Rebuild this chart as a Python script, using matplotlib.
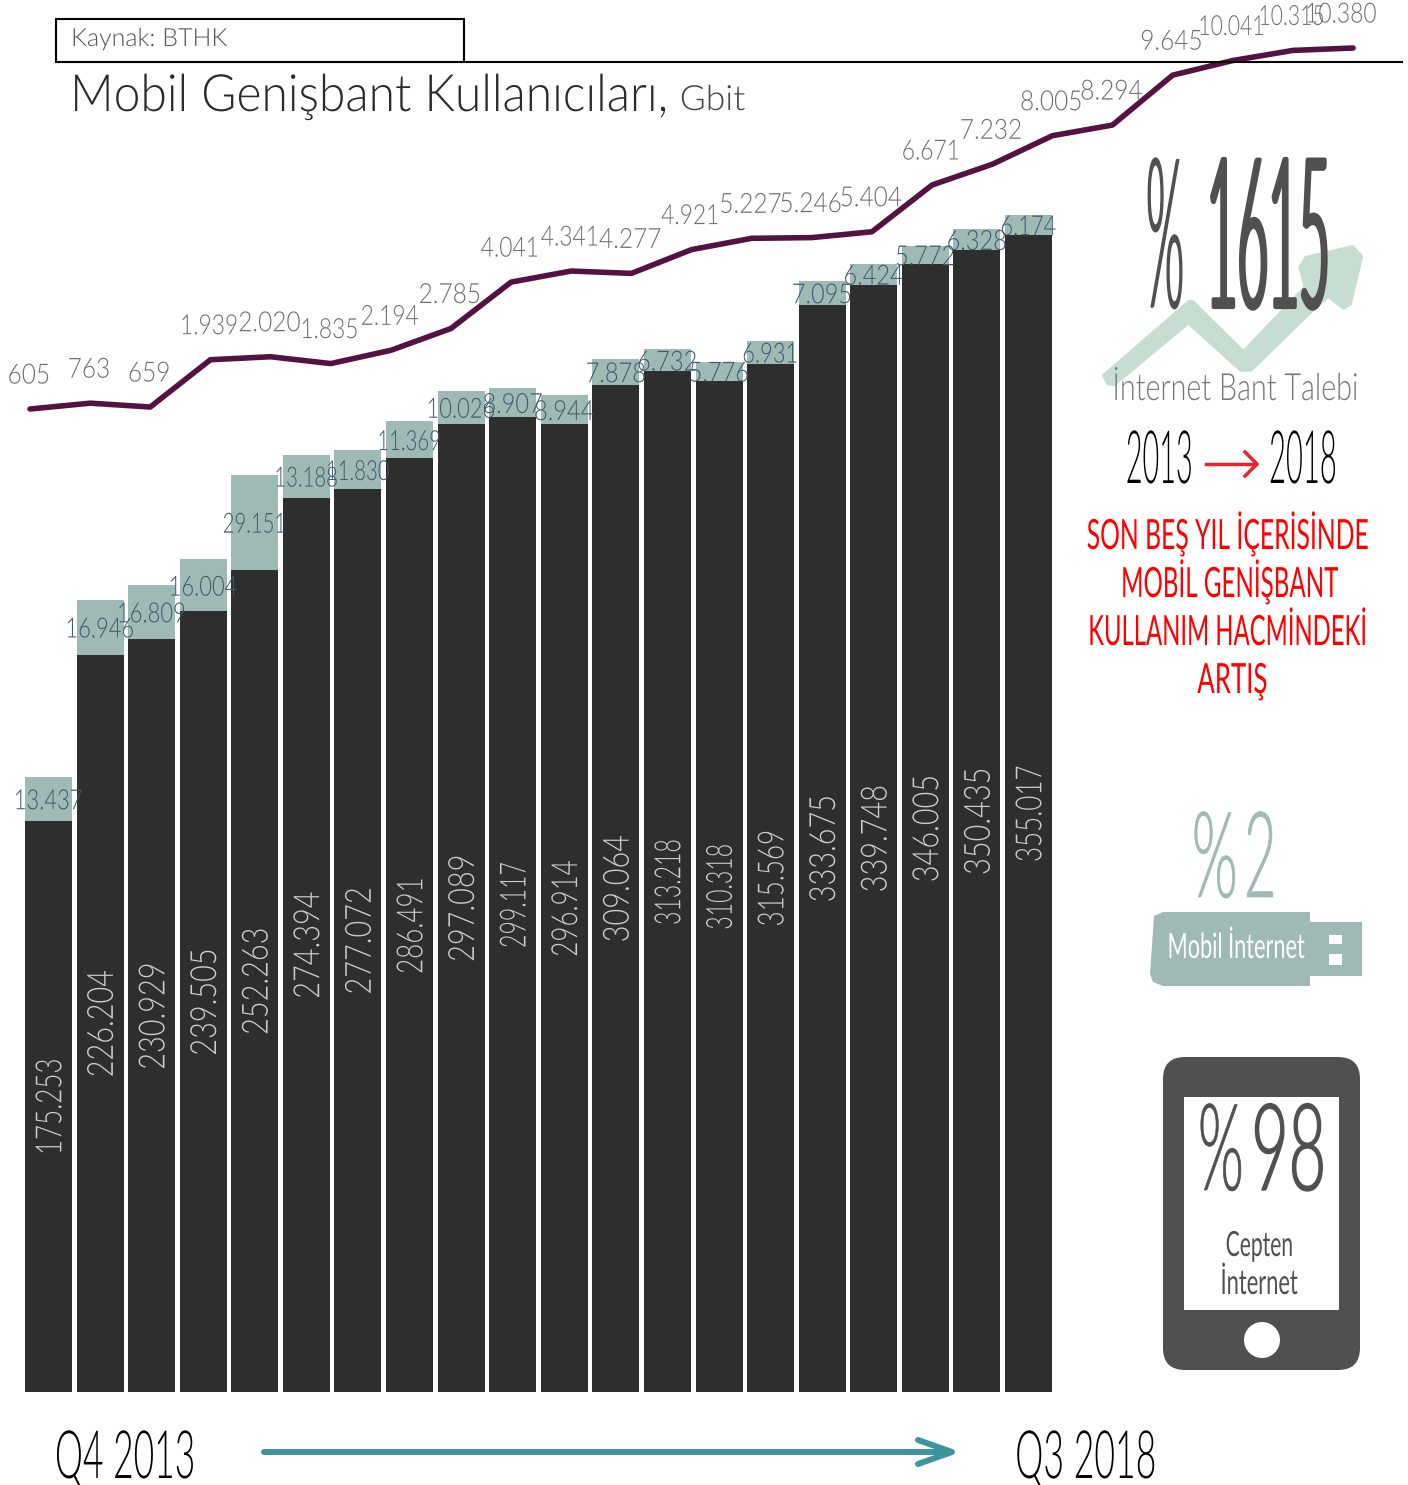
import numpy as np
import matplotlib
matplotlib.use("Agg")
import matplotlib.pyplot as plt
from matplotlib.patches import Polygon, FancyBboxPatch, Circle, Rectangle
from matplotlib.patheffects import AbstractPathEffect
from matplotlib.transforms import Affine2D

quarters = ["Q4 2013", "Q1 2014", "Q2 2014", "Q3 2014", "Q4 2014", "Q1 2015", "Q2 2015",
            "Q3 2015", "Q4 2015", "Q1 2016", "Q2 2016", "Q3 2016", "Q4 2016", "Q1 2017",
            "Q2 2017", "Q3 2017", "Q4 2017", "Q1 2018", "Q2 2018", "Q3 2018"]
cep_values = [175253, 226204, 230929, 239505, 252263, 274394, 277072, 286491, 297089, 299117,
              296914, 309064, 313218, 310318, 315569, 333675, 339748, 346005, 350435, 355017]
usb_values = [13437, 16946, 16809, 16004, 29151, 13188, 11830, 11369, 10026, 8907,
              8944, 7878, 6732, 5776, 6931, 7095, 6424, 5772, 6328, 6174]
talep_values = [605, 763, 659, 1939, 2020, 1835, 2194, 2785, 4041, 4341, 4277, 4921,
                5227, 5246, 5404, 6671, 7232, 8005, 8294, 9645, 10041, 10315, 10380]

W, H = 1408, 1485
FONT = ["Lato", "DejaVu Sans"]
DARK = "#2e2e2e"
TEAL = "#9fbab4"
GREY = "#505050"


class Squeeze(AbstractPathEffect):
    # the reference font is very narrow, so glyphs get squeezed along the text direction
    def __init__(self, sx=None, width=None, grow=0):
        self.sx = sx
        self.width = width
        self.grow = grow

    def draw_path(self, renderer, gc, tpath, affine, rgbFace=None):
        xs = tpath.vertices[:, 0]
        cx = (xs.min() + xs.max()) / 2
        sx = self.sx
        if self.width is not None:
            scale = np.sqrt(abs(np.linalg.det(affine.get_matrix()[:2, :2])))
            sx = self.width / ((xs.max() - xs.min()) * scale)
        t = Affine2D().translate(-cx, 0).scale(sx, 1).translate(cx, 0) + affine
        gc0 = renderer.new_gc()
        gc0.copy_properties(gc)
        if self.grow:
            gc0.set_foreground(rgbFace)
            gc0.set_linewidth(self.grow)
        renderer.draw_path(gc0, tpath, t, rgbFace)
        gc0.restore()


def dotted(v):
    return f"{v:,}".replace(",", ".")


def label_squeeze(text, base, drop):
    # Lato has wide tabular ones, the reference has thin ones
    return [Squeeze(sx=base - drop * text.count("1"))]


def put_text(s, x0, x1, base, size, color, weight=300, grow=0):
    x = (x0 + x1) / 2 + max(0, size - 30) * 0.05
    over.text(x, base, s, ha="center", va="baseline", fontsize=size, color=color,
              family=FONT, weight=weight, path_effects=[Squeeze(width=x1 - x0, grow=grow)], zorder=5)


fig = plt.figure(figsize=(W / 100, H / 100), dpi=100, facecolor="white")

# bars
ax = fig.add_axes([0, 0, 1, 1])
px_bar = 0.003259
step = 51.58
ax.set_xlim(-48.5 / step, (W - 48.5) / step)
ax.set_ylim(-(H - 1392) / px_bar, 1392 / px_bar)
ax.axis("off")
idx = np.arange(len(quarters))
b1 = ax.bar(idx, cep_values, width=47 / step, color=DARK)
b2 = ax.bar(idx, usb_values, width=47 / step, bottom=cep_values, color=TEAL)
labels1 = ax.bar_label(b1, labels=[dotted(v) for v in cep_values], label_type="center", rotation=90,
                       fontsize=26, color="#cccccc", family=FONT, weight=300)
labels2 = ax.bar_label(b2, labels=[dotted(v) for v in usb_values], label_type="center",
                       fontsize=20, color="#3f5a70", family=FONT, weight=300)
for a in labels1:
    a.xyann = (2, 0)
    a.set_path_effects(label_squeeze(a.get_text(), 0.80, 0.08))
for a in labels2:
    a.xyann = (0, -2)
    a.set_path_effects(label_squeeze(a.get_text(), 0.85, 0.06))

# line
ax2 = fig.add_axes([0, 0, 1, 1])
ax2.patch.set_alpha(0)
px_line = 0.03693
step2 = 60.14
ax2.set_xlim(-30 / step2, (W - 30) / step2)
ax2.set_ylim(605 - (H - 409) / px_line, 605 + 409 / px_line)
ax2.axis("off")
ax2.plot(np.arange(len(talep_values)), talep_values, color="#531241", lw=4.0, solid_capstyle="round")
for i, v in enumerate(talep_values):
    dx = -12 if i == len(talep_values) - 1 else -1
    ax2.annotate(dotted(v), (i, v), xytext=(dx, 33), textcoords="offset pixels", ha="center",
                 va="center", fontsize=20, color="#6e6e6e", family=FONT, weight=300,
                 path_effects=label_squeeze(dotted(v), 0.88, 0.06))

# everything else is placed in picture pixels
over = fig.add_axes([0, 0, 1, 1])
over.patch.set_alpha(0)
over.set_xlim(0, W)
over.set_ylim(H, 0)
over.axis("off")

over.add_patch(Rectangle((56, 19), 408, 43, fc="none", ec="black", lw=1.5))
over.plot([56, 1402], [62, 62], color="black", lw=1.5)
put_text("Kaynak: BTHK", 71, 227, 46, 18, "#555555")
put_text("Mobil Genişbant Kullanıcıları,", 72, 667, 111, 37, "#2a2a2a")
put_text("Gbit", 680, 745, 110, 25, "#444444")

up_arrow = [(125, 735), (385, 510), (400, 510), (550, 658), (730, 470), (715, 410), (735, 378),
            (880, 345), (910, 378), (875, 525), (850, 540), (805, 505), (760, 545), (575, 725),
            (540, 725), (385, 585), (165, 768), (140, 765)]
over.add_patch(Polygon([(1060 + x / 3, 130 + y / 3) for x, y in up_arrow], fc="#c8ddd2", ec="none", zorder=1))
put_text("%", 1145, 1181, 307, 150, GREY, grow=1)
put_text("1615", 1209, 1328, 307, 150, GREY, grow=3)
put_text("İnternet Bant Talebi", 1114, 1358, 400, 27, "#777777")

put_text("2013", 1127, 1192, 483, 53, "black")
put_text("2018", 1270, 1336, 483, 53, "black")
over.plot([1206, 1256], [464, 464], color="#e8232f", lw=2.5)
over.plot([1245, 1257, 1245], [452, 464, 476], color="#e8232f", lw=2.5)

put_text("SON BEŞ YIL İÇERİSİNDE", 1087, 1368, 549, 30, "#ff0000", weight=400)
put_text("MOBİL GENİŞBANT", 1121, 1338, 597, 30, "#ff0000", weight=400)
put_text("KULLANIM HACMİNDEKİ", 1089, 1366, 645, 30, "#ff0000", weight=400)
put_text("ARTIŞ", 1198, 1267, 693, 30, "#ff0000", weight=400)

put_text("%", 1192, 1235, 897, 86, TEAL, grow=0.5)
put_text("2", 1245, 1274, 897, 86, TEAL, grow=0.5)
usb = [(1154, 916), (1163, 912), (1310, 912), (1310, 922), (1362, 922), (1362, 976), (1310, 976),
       (1310, 986), (1163, 986), (1153, 982), (1150, 974)]
over.add_patch(Polygon(usb, fc=TEAL, ec="none", zorder=1))
over.add_patch(Rectangle((1329, 935), 13, 9, fc="white", ec="none", zorder=2))
over.add_patch(Rectangle((1329, 954), 13, 11, fc="white", ec="none", zorder=2))
put_text("Mobil İnternet", 1168, 1305, 958, 25, "white", weight=400)

over.add_patch(FancyBboxPatch((1185, 1079), 153, 269, boxstyle="round,pad=22,rounding_size=22",
                              fc=GREY, ec="none", zorder=1))
over.add_patch(Rectangle((1184, 1097), 155, 213, fc="white", ec="none", zorder=2))
over.add_patch(Circle((1262, 1340), 18, fc="white", ec="none", zorder=2))
put_text("%", 1198, 1241, 1190, 87, GREY, grow=0.5)
put_text("98", 1252, 1323, 1190, 87, GREY, grow=1)
put_text("Cepten", 1227, 1293, 1256, 25, GREY, weight=400)
put_text("İnternet", 1221, 1298, 1294, 25, GREY, weight=400)

put_text("Q4 2013", 56, 194, 1478, 48, "black")
put_text("Q3 2018", 1016, 1155, 1478, 48, "black")
over.plot([264, 950], [1452, 1452], color="#3d949f", lw=4.3, solid_capstyle="round")
over.plot([918, 952, 918], [1440, 1452, 1464], color="#3d949f", lw=4.3,
          solid_capstyle="round", solid_joinstyle="round")

fig.savefig("out.png", dpi=100)
